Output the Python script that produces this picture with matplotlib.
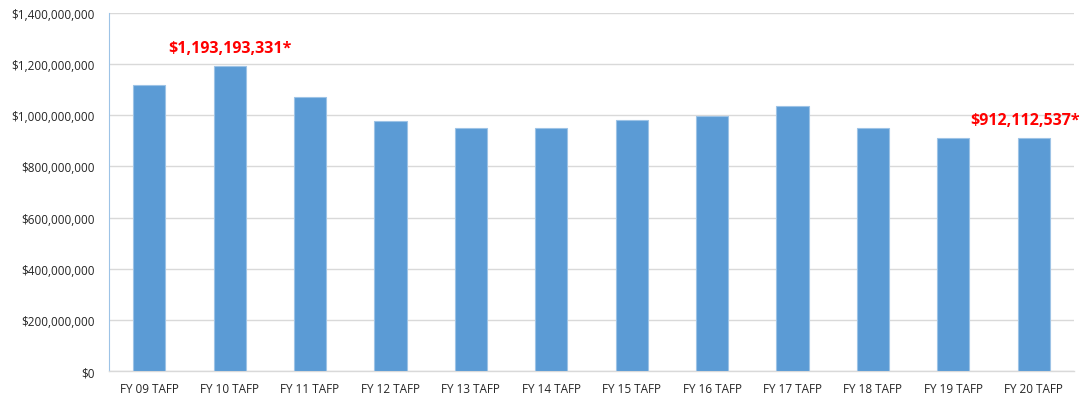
import matplotlib
matplotlib.use("Agg")
import matplotlib.pyplot as plt
from matplotlib.ticker import FuncFormatter

# 数据：财年类别和对应金额
categories = ["FY 09 TAFP", "FY 10 TAFP", "FY 11 TAFP", "FY 12 TAFP", "FY 13 TAFP", "FY 14 TAFP",
              "FY 15 TAFP", "FY 16 TAFP", "FY 17 TAFP", "FY 18 TAFP", "FY 19 TAFP", "FY 20 TAFP"]
values = [1120000000, 1193193331, 1072000000, 978000000, 950000000, 950000000,
          982000000, 997000000, 1035000000, 950000000, 910000000, 912112537]
# 需要标注的柱子及文字
label_idx = [1, 11]
label_texts = ["$1,193,193,331*", "$912,112,537*"]

plt.rcParams['font.family'] = ['Open Sans', 'DejaVu Sans']

fig = plt.figure(figsize=(10.81, 4.02), dpi=100)
ax = fig.add_axes([0.1008, 0.0746, 0.8927, 0.8904])

x = range(len(categories))
ax.bar(x, values, width=0.4, color="#5B9BD5", edgecolor="#9DC3E6", linewidth=0.8, zorder=3)

# 红色加粗标注（最后一个贴着右边缘，右对齐避免被裁掉）
for i, t in zip(label_idx, label_texts):
    if i == len(categories) - 1:
        ax.text(i + 0.57, values[i] + 40000000, t, color="#FF0000", fontsize=11.5,
                fontweight="bold", ha="right", va="bottom", zorder=4)
    else:
        ax.text(i, values[i] + 40000000, t, color="#FF0000", fontsize=11.5,
                fontweight="bold", ha="center", va="bottom", zorder=4)

ax.set_xlim(-0.5, len(categories) - 0.5)
ax.set_ylim(0, 1400000000)
ax.set_yticks(range(0, 1400000001, 200000000))
ax.yaxis.set_major_formatter(FuncFormatter(lambda v, p: "${:,.0f}".format(v)))
ax.set_xticks(list(x))
ax.set_xticklabels(categories)
ax.tick_params(axis="both", length=0, labelsize=8.5, colors="#262626")
ax.tick_params(axis="y", pad=10)
ax.tick_params(axis="x", pad=8)

ax.grid(axis="y", color="#D9D9D9", linewidth=1, zorder=0)
for s in ["top", "right"]:
    ax.spines[s].set_visible(False)
ax.spines["left"].set_color("#9DC3E6")
ax.spines["bottom"].set_color("#D9D9D9")
ax.spines["bottom"].set_linewidth(1)

fig.savefig("out.png", dpi=100)
